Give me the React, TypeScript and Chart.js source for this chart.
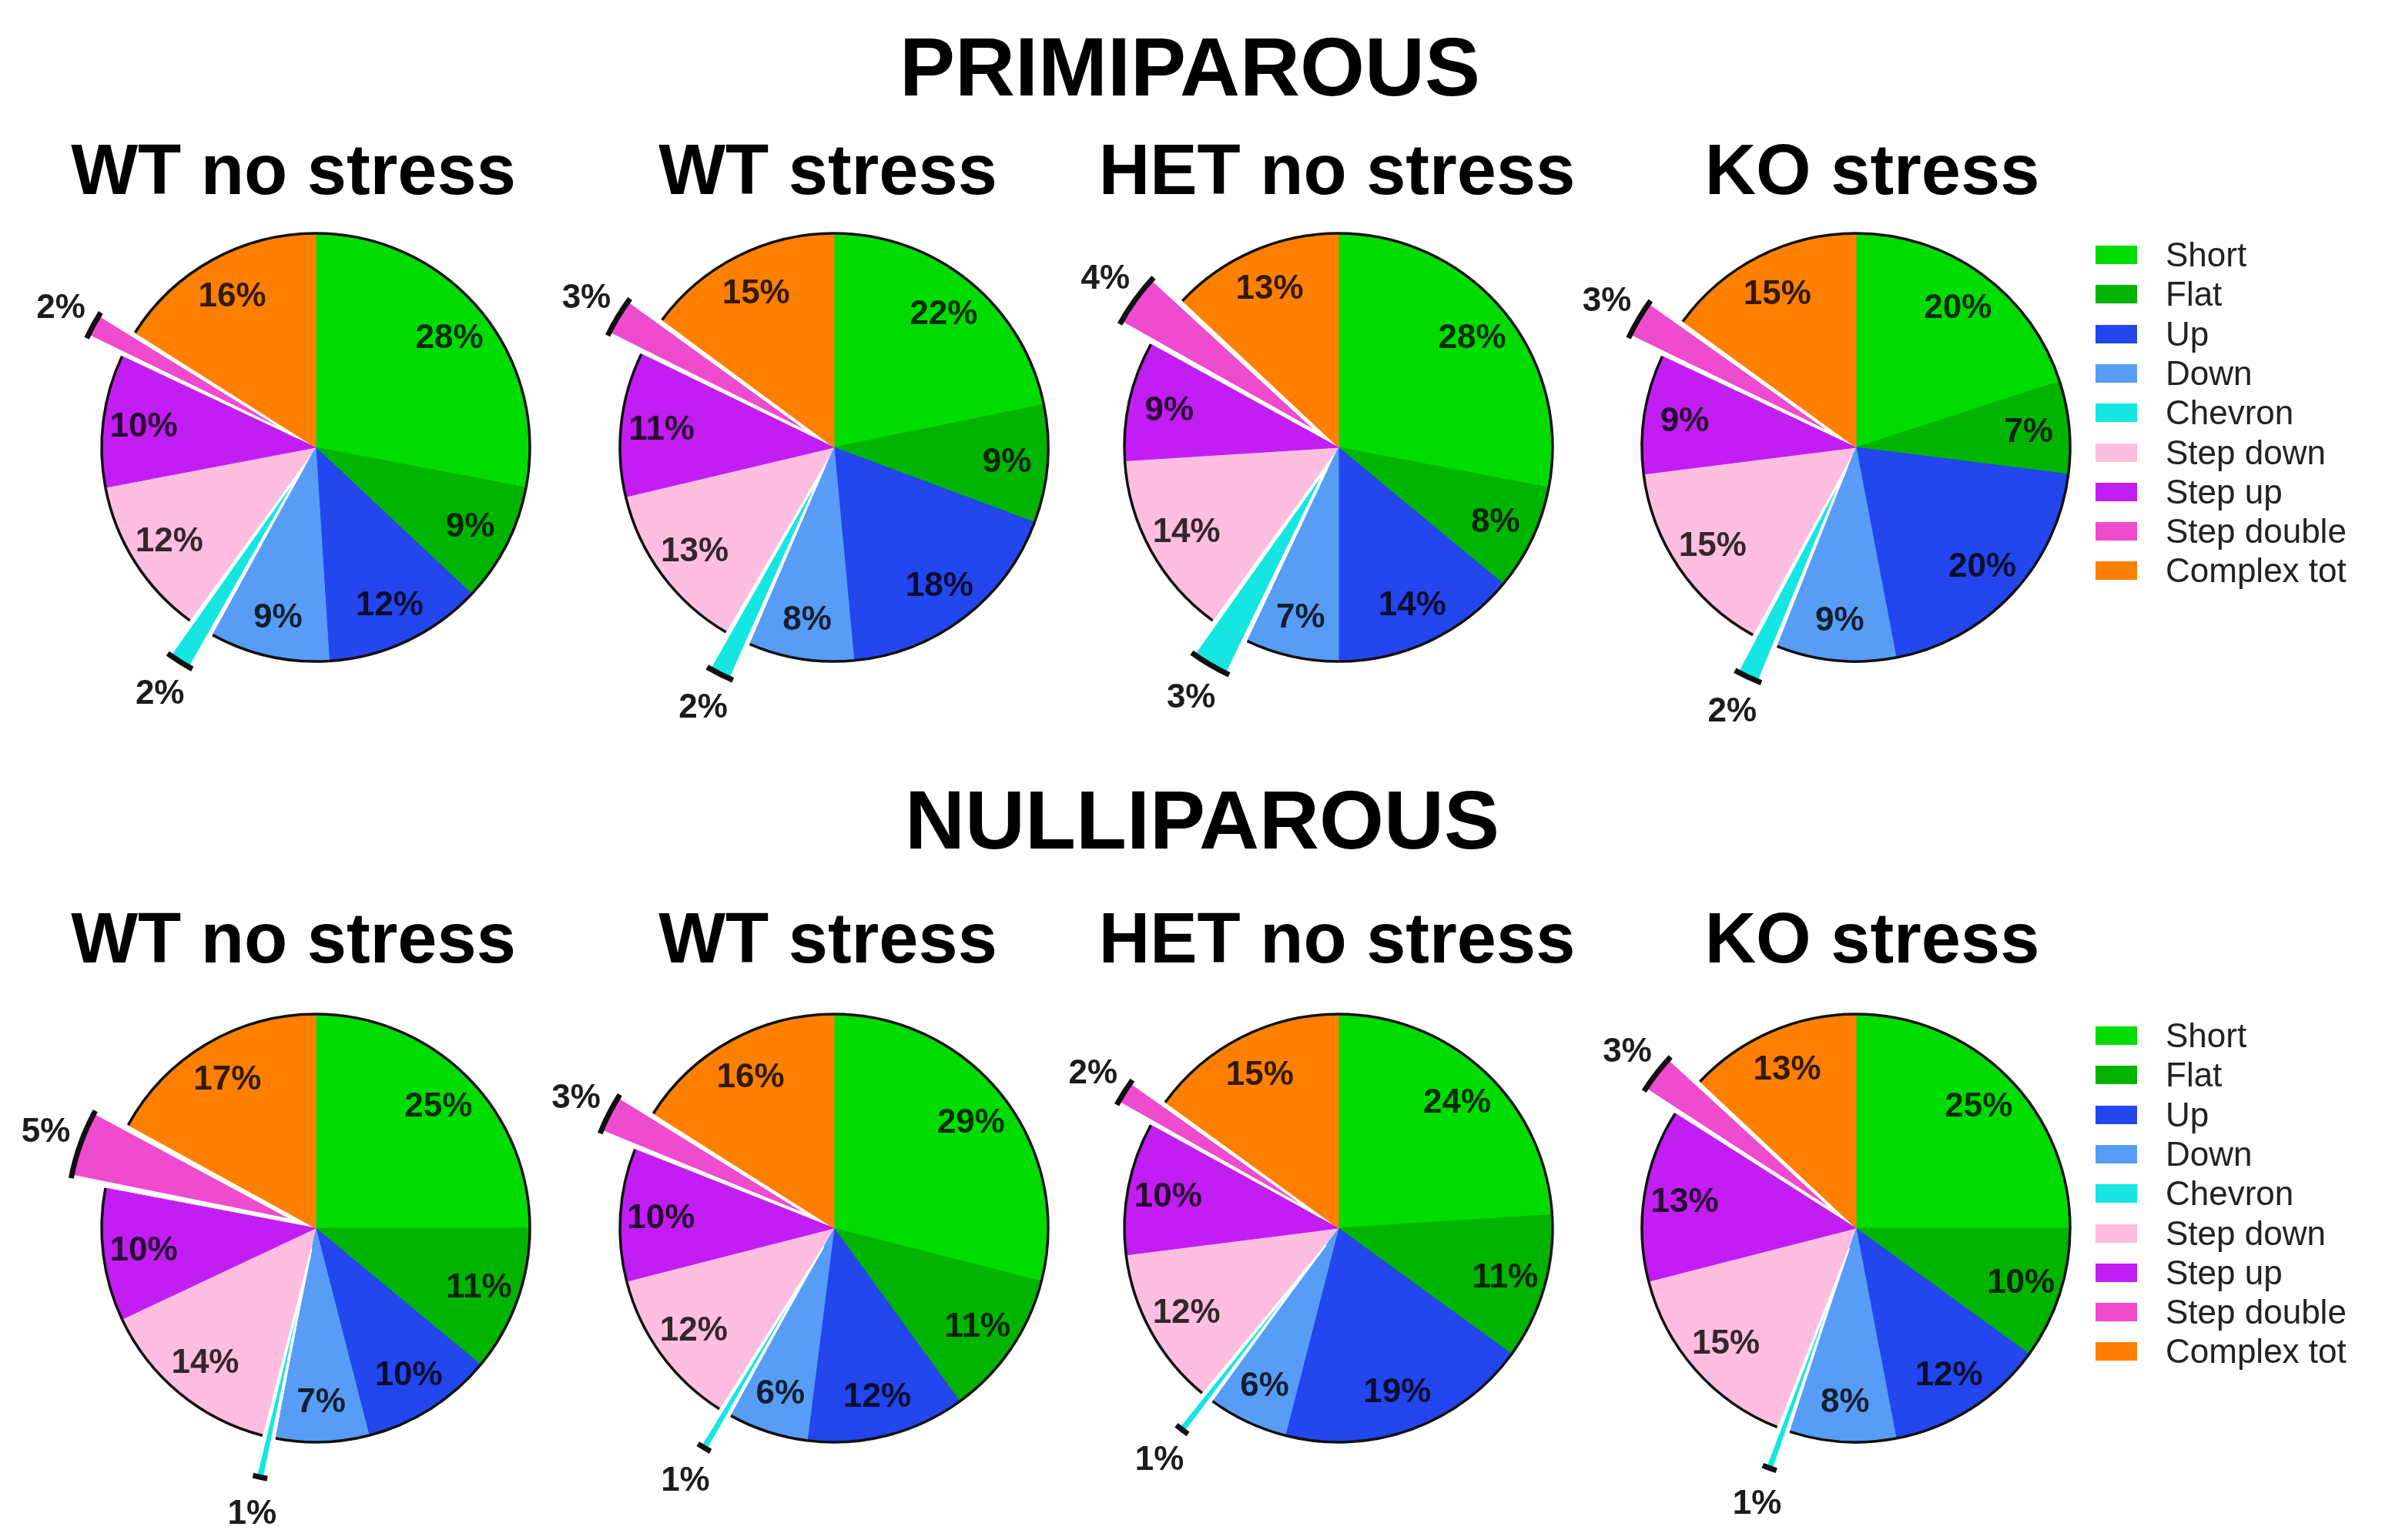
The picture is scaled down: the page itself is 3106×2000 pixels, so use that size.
import React, { useEffect, useRef } from 'react';
import { Chart, ArcElement, PieController } from 'chart.js';

Chart.register(ArcElement, PieController);

// slice order, clockwise from 12 o'clock
const categories = ['Short', 'Flat', 'Up', 'Down', 'Chevron', 'Step down', 'Step up', 'Step double', 'Complex tot'];
const sliceColors = ['#00DC00', '#00B400', '#2346EE', '#579DF6', '#16E6E2', '#FFBEDF', '#C21DF2', '#EE4BCF', '#FF8000'];
const explodedCategories = ['Chevron', 'Step double'];

const groupTitles = ['WT no stress', 'WT stress', 'HET no stress', 'KO stress'];

// PRIMIPAROUS (%)
const primiWtNoStress = [28, 9, 12, 9, 2, 12, 10, 2, 16];
const primiWtStress = [22, 9, 18, 8, 2, 13, 11, 3, 15];
const primiHetNoStress = [28, 8, 14, 7, 3, 14, 9, 4, 13];
const primiKoStress = [20, 7, 20, 9, 2, 15, 9, 3, 15];

// NULLIPAROUS (%)
const nulliWtNoStress = [25, 11, 10, 7, 1, 14, 10, 5, 17];
const nulliWtStress = [29, 11, 12, 6, 1, 12, 10, 3, 16];
const nulliHetNoStress = [24, 11, 19, 6, 1, 12, 10, 2, 15];
const nulliKoStress = [25, 10, 12, 8, 1, 15, 13, 3, 13];

const FONT = '"Liberation Sans", Arial, Helvetica, sans-serif';
const RADIUS = 278;
const EXPLODE = 110;
const BOX = 880;

const pieCentersX = [410, 1083, 1738, 2410];
const titleCentersX = [381, 1075, 1736, 2431];

// outer rim + percentage labels
const pieDecor = {
  id: 'pieDecor',
  afterDatasetsDraw(chart: any) {
    const ctx: CanvasRenderingContext2D = chart.ctx;
    const meta = chart.getDatasetMeta(0);
    const values = chart.data.datasets[0].data as number[];
    meta.data.forEach((arc: any, i: number) => {
      const { x, y, startAngle, endAngle, outerRadius } = arc.getProps(
        ['x', 'y', 'startAngle', 'endAngle', 'outerRadius'], true);
      const off = (arc.options.offset || 0) / 4;
      const mid = (startAngle + endAngle) / 2;
      const circ = endAngle - startAngle;
      // same shift Chart.js applies to an offset arc
      const cx = x + Math.cos(mid) * off;
      const cy = y + Math.sin(mid) * off;
      const r = outerRadius + off * (1 - Math.sin(Math.min(Math.PI, circ)));

      ctx.save();
      ctx.beginPath();
      ctx.arc(cx, cy, r, startAngle, endAngle);
      ctx.lineWidth = off ? 7 : 3.5;
      ctx.strokeStyle = '#111';
      ctx.stroke();

      ctx.font = `bold 44px ${FONT}`;
      ctx.textAlign = 'center';
      ctx.textBaseline = 'middle';
      const lr = off ? r + 48 : outerRadius * 0.81;
      ctx.fillStyle = off ? '#1c1c1c' : 'rgba(0,0,0,0.8)';
      ctx.fillText(values[i] + '%', cx + Math.cos(mid) * lr, cy + Math.sin(mid) * lr + 2);
      ctx.restore();
    });
  },
};

const PieChart = ({ values, cx, cy }: { values: number[]; cx: number; cy: number }) => {
  const chartRef = useRef<HTMLCanvasElement>(null);

  useEffect(() => {
    if (!chartRef.current) return;
    const isExploded = categories.map((c) => explodedCategories.includes(c));
    const chart = new Chart(chartRef.current, {
      type: 'pie',
      data: {
        labels: categories,
        datasets: [
          {
            data: values,
            backgroundColor: sliceColors,
            borderColor: isExploded.map((e, i) => (e ? '#ffffff' : sliceColors[i])),
            borderWidth: isExploded.map((e) => (e ? 3 : 1)),
            offset: isExploded.map((e) => (e ? EXPLODE : 0)),
          },
        ],
      },
      options: {
        animation: false,
        responsive: true,
        maintainAspectRatio: false,
        radius: RADIUS,
        events: [],
        layout: { padding: 0 },
        plugins: {
          legend: { display: false },
          tooltip: { enabled: false },
        },
      } as any,
      plugins: [pieDecor],
    });
    return () => chart.destroy();
  }, [values]);

  return (
    <div style={{ position: 'absolute', left: cx - BOX / 2, top: cy - BOX / 2, width: BOX, height: BOX }}>
      <canvas ref={chartRef} />
    </div>
  );
};

const Legend = ({ top }: { top: number }) => (
  <>
    {categories.map((c, i) => (
      <div
        key={c}
        style={{
          position: 'absolute', left: 2721, top: top + i * 51.3 - 22, height: 44,
          display: 'flex', alignItems: 'center', whiteSpace: 'nowrap',
        }}
      >
        <div style={{ width: 54, height: 24, background: sliceColors[i] }} />
        <span style={{ marginLeft: 37, font: `44px ${FONT}`, color: '#222' }}>{c}</span>
      </div>
    ))}
  </>
);

const Text = ({ text, x, baseline, size }: { text: string; x: number; baseline: number; size: number }) => (
  <div
    style={{
      position: 'absolute', left: x, top: baseline - 0.8465 * size, transform: 'translateX(-50%)',
      font: `bold ${size}px/1 ${FONT}`, color: '#000', whiteSpace: 'nowrap',
    }}
  >
    {text}
  </div>
);

const rows = [
  { title: 'PRIMIPAROUS', titleX: 1545, titleBase: 124, subBase: 252, pieY: 581, legendY: 331,
    data: [primiWtNoStress, primiWtStress, primiHetNoStress, primiKoStress] },
  { title: 'NULLIPAROUS', titleX: 1561, titleBase: 1102, subBase: 1250, pieY: 1595, legendY: 1345,
    data: [nulliWtNoStress, nulliWtStress, nulliHetNoStress, nulliKoStress] },
];

export default function App() {
  return (
    <div style={{ position: 'absolute', left: 0, top: 0, width: 3106, height: 2000, background: '#fff', overflow: 'hidden' }}>
      {rows.map((row) => (
        <React.Fragment key={row.title}>
          <Text text={row.title} x={row.titleX} baseline={row.titleBase} size={108} />
          {groupTitles.map((g, i) => (
            <Text key={g} text={g} x={titleCentersX[i]} baseline={row.subBase} size={92} />
          ))}
          {row.data.map((vals, i) => (
            <PieChart key={i} values={vals} cx={pieCentersX[i]} cy={row.pieY} />
          ))}
          <Legend top={row.legendY} />
        </React.Fragment>
      ))}
    </div>
  );
}
